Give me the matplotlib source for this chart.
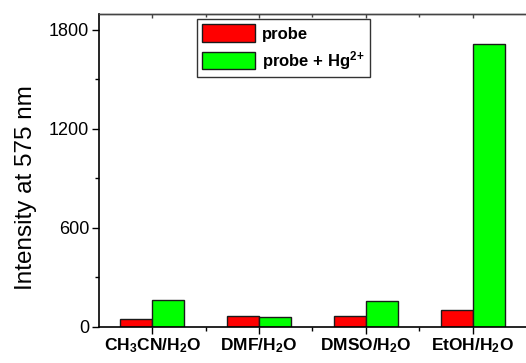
import matplotlib
matplotlib.use("Agg")
import matplotlib.pyplot as plt
import numpy as np
from matplotlib.ticker import MultipleLocator, FixedLocator

plt.rcParams['font.family'] = ['Liberation Sans', 'DejaVu Sans']
plt.rcParams['mathtext.fontset'] = 'custom'
plt.rcParams['mathtext.rm'] = 'Liberation Sans:bold'
plt.rcParams['mathtext.bf'] = 'Liberation Sans:bold'
plt.rcParams['mathtext.default'] = 'rm'

categories = [r'CH$_3$CN/H$_2$O', r'DMF/H$_2$O', r'DMSO/H$_2$O', r'EtOH/H$_2$O']
probe = [49, 69, 67, 103]
probe_hg = [166, 61, 156, 1713]
series_labels = ['probe', r'probe + Hg$^{2\!+}$']
yticks = [0, 600, 1200, 1800]

fig = plt.figure(figsize=(5.26, 3.63), dpi=100)
ax = fig.add_axes([0.188, 0.0992, 0.812, 0.8622])

x = np.arange(len(categories))
w = 0.3
ax.bar(x - w/2, probe, width=w, color='#ff0000', edgecolor='#1a1a1a', linewidth=1.0, label=series_labels[0])
ax.bar(x + w/2, probe_hg, width=w, color='#00ff00', edgecolor='#1a1a1a', linewidth=1.0, label=series_labels[1])

ax.set_xlim(-0.5, 3.5)
ax.set_ylim(0, 1895)
ax.set_xticks(x)
ax.set_xticklabels(categories, fontsize=12.5, fontweight='bold')
ax.xaxis.set_minor_locator(FixedLocator([0.5, 1.5, 2.5]))
ax.set_yticks(yticks)
ax.yaxis.set_minor_locator(MultipleLocator(300))
ax.tick_params(axis='y', which='major', direction='out', length=5, width=1, labelsize=13, pad=2)
ax.tick_params(axis='y', which='minor', direction='out', length=3, width=1)
ax.tick_params(axis='x', which='major', direction='out', length=5, width=1, pad=2)
ax.tick_params(axis='x', which='minor', direction='out', length=3, width=1)

for s in ['left', 'bottom']:
    ax.spines[s].set_linewidth(1.2)
ax.spines['top'].set_linewidth(1.0)
ax.spines['top'].set_color('#444444')
ax.spines['right'].set_visible(False)

# small inward ticks on the top spine
sec = ax.secondary_xaxis('top')
sec.set_xticks(x)
sec.set_xticklabels([])
sec.xaxis.set_minor_locator(FixedLocator([0.5, 1.5, 2.5]))
sec.tick_params(axis='x', which='major', direction='in', length=3, width=1, color='#444444')
sec.tick_params(axis='x', which='minor', direction='in', length=2, width=1, color='#444444')
sec.spines['top'].set_linewidth(1.0)
sec.spines['top'].set_color('#444444')

ax.set_ylabel('Intensity at 575 nm', fontsize=17.5)
ax.yaxis.set_label_coords(-0.145, 0.447)

leg = ax.legend(loc='upper left', bbox_to_anchor=(0.23, 0.983), fancybox=False,
                edgecolor='#333333', framealpha=1, prop={'weight': 'bold', 'size': 12},
                handlelength=3.2, handleheight=1.25, borderpad=0.3, labelspacing=0.4,
                handletextpad=0.4, borderaxespad=0)
leg.get_frame().set_linewidth(1.0)

fig.savefig('out.png', dpi=100)
